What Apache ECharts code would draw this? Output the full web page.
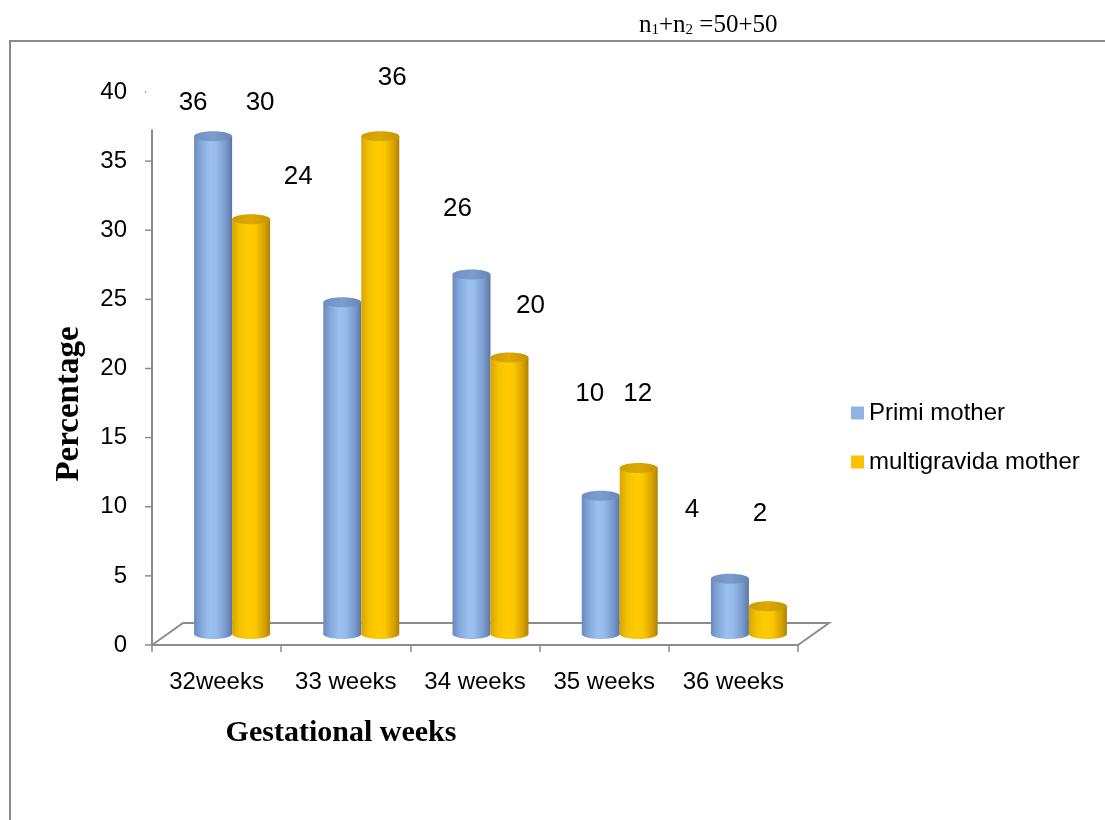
<!DOCTYPE html>
<html>
<head>
<meta charset="utf-8">
<script src="https://cdn.jsdelivr.net/npm/echarts@6/dist/echarts.min.js"></script>
<style>
  html, body { margin: 0; padding: 0; background: #ffffff; }
  #chart { width: 1105px; height: 820px; }
</style>
</head>
<body>
<div id="chart"></div>
<script>
// Gestational weeks at delivery, percentage of mothers in each group
const categories = ['32weeks', '33 weeks', '34 weeks', '35 weeks', '36 weeks'];
const primiMother = [36, 24, 26, 10, 4];
const multigravidaMother = [30, 36, 20, 12, 2];
const yTickValues = [0, 5, 10, 15, 20, 25, 30, 35, 40];

// Pixel offsets of each value label from the top of its cylinder
const primiLabelOffset = [[-20, -33], [-44, -125], [-14, -66], [-11, -102], [-38, -69]];
const multiLabelOffset = [[9, -116], [12, -58], [21, -52], [-1, -74], [-8, -93]];

const AXIS_GREY = '#8c8c8c';
const FLOOR_DEPTH_Y = 22;      // px, vertical rise of the floor's back edge
const FLOOR_DEPTH_X = 0.24;    // fraction of a category band
const BAR_FRACTION = 0.294;    // cylinder width as a fraction of a band
const AXIS_LINE_TOP = 37.3;    // value where the drawn value-axis line ends

const palettes = {
  primi: {
    legend: '#8DB4E2',
    body: [[0, '#6A89BD'], [0.18, '#83A7DA'], [0.42, '#9CC1F1'], [0.58, '#97BCEC'], [0.85, '#7796C9'], [1, '#5A75A5']],
    top: [[0, '#6F8EC2'], [0.5, '#7E9DCF'], [1, '#6886B8']]
  },
  multi: {
    legend: '#FFC000',
    body: [[0, '#D9A400'], [0.2, '#F4C200'], [0.45, '#FFCC00'], [0.62, '#FCC600'], [0.86, '#D6A000'], [1, '#AE8200']],
    top: [[0, '#CE9C00'], [0.5, '#DDAA00'], [1, '#C49300']]
  }
};

function grad(stops) {
  return new echarts.graphic.LinearGradient(0, 0, 1, 0,
    stops.map(s => ({ offset: s[0], color: s[1] })));
}

function cylinderRenderer(slot, palette, offsets) {
  return function (params, api) {
    const cat = api.value(0);
    const val = api.value(1);
    const base = api.coord([cat, 0]);
    const top = api.coord([cat, val]);
    const band = api.size([1, 0])[0];
    const w = band * BAR_FRACTION;
    const rx = w / 2, ry = 5;
    const cx = base[0] + band * FLOOR_DEPTH_X / 2 + slot * rx;
    const by = base[1] - FLOOR_DEPTH_Y / 2;
    const ty = top[1] - FLOOR_DEPTH_Y / 2;
    const off = offsets[params.dataIndex];
    return {
      type: 'group',
      children: [
        { type: 'ellipse', shape: { cx: cx, cy: by, rx: rx, ry: ry }, style: { fill: grad(palette.body) } },
        { type: 'rect', shape: { x: cx - rx, y: ty, width: w, height: by - ty }, style: { fill: grad(palette.body) } },
        { type: 'ellipse', shape: { cx: cx, cy: ty, rx: rx, ry: ry }, style: { fill: grad(palette.top) } },
        {
          type: 'text',
          x: cx + off[0], y: ty + off[1],
          style: {
            text: String(val), fill: '#000', align: 'center', verticalAlign: 'middle',
            font: '26px "Liberation Sans", Arial, sans-serif'
          }
        }
      ]
    };
  };
}

// Floor outline, value-axis line and its tick marks
function frameRenderer(params, api) {
  const band = api.size([1, 0])[0];
  const p0 = api.coord([0, 0]);
  const left = p0[0] - band / 2;
  const right = api.coord([categories.length - 1, 0])[0] + band / 2;
  const y0 = p0[1];
  const dx = band * FLOOR_DEPTH_X;
  const lineStyle = { stroke: AXIS_GREY, lineWidth: 2, fill: null };
  const children = [
    { type: 'polyline', shape: { points: [[left, y0], [left + dx, y0 - FLOOR_DEPTH_Y], [right + dx, y0 - FLOOR_DEPTH_Y], [right, y0]] }, style: lineStyle },
    { type: 'line', shape: { x1: left, y1: y0, x2: left, y2: api.coord([0, AXIS_LINE_TOP])[1] }, style: { stroke: AXIS_GREY, lineWidth: 2 } }
  ];
  yTickValues.forEach(v => {
    const y = api.coord([0, v])[1];
    if (v <= AXIS_LINE_TOP) {
      children.push({ type: 'line', shape: { x1: left - 7, y1: y, x2: left, y2: y }, style: { stroke: AXIS_GREY, lineWidth: 1.5 } });
    } else {
      children.push({ type: 'rect', shape: { x: left - 7, y: y - 0.5, width: 1.2, height: 1.2 }, style: { fill: '#666' } });
    }
  });
  return { type: 'group', children: children };
}

const chart = echarts.init(document.getElementById('chart'), null, { renderer: 'canvas' });

const serif = '"Liberation Serif", "Times New Roman", serif';
const sans = '"Liberation Sans", Arial, sans-serif';

chart.setOption({
  backgroundColor: '#ffffff',
  animation: false,
  title: {
    left: 634, top: 8,
    text: '{a|n}{s|1}{a|+n}{s|2}{a| =50+50}',
    textStyle: {
      fontWeight: 'normal',
      rich: {
        a: { fontFamily: serif, fontSize: 25, fontWeight: 'normal', color: '#000' },
        s: { fontFamily: serif, fontSize: 15, fontWeight: 'normal', color: '#000', padding: [10, 0, 0, 0] }
      }
    }
  },
  graphic: [
    { type: 'polyline', shape: { points: [[10, 820], [10, 41], [1105, 41]] }, style: { stroke: '#8a8a8a', lineWidth: 2, fill: null } },
    {
      type: 'text', x: 69, y: 404, rotation: Math.PI / 2,
      style: { text: 'Percentage', font: 'bold 33px ' + serif, fill: '#000', align: 'center', verticalAlign: 'middle' }
    },
    {
      type: 'text', x: 341, y: 733,
      style: { text: 'Gestational weeks', font: 'bold 30px ' + serif, fill: '#000', align: 'center', verticalAlign: 'middle' }
    }
  ],
  legend: {
    orient: 'vertical',
    left: 846, top: 395,
    itemWidth: 13, itemHeight: 13, itemGap: 23,
    icon: 'rect',
    textStyle: { fontFamily: sans, fontSize: 24, color: '#000', lineHeight: 26 },
    data: ['Primi mother', 'multigravida mother']
  },
  grid: { left: 152, right: 307, top: 92, bottom: 175, containLabel: false },
  xAxis: {
    type: 'category',
    data: categories,
    boundaryGap: true,
    axisLine: { show: true, lineStyle: { color: AXIS_GREY, width: 2 } },
    axisTick: { show: true, interval: 0, length: 7, alignWithLabel: false, lineStyle: { color: AXIS_GREY, width: 1.5 } },
    axisLabel: { interval: 0, margin: 25, color: '#000', fontSize: 24, fontFamily: sans },
    splitLine: { show: false }
  },
  yAxis: {
    type: 'value',
    min: 0, max: 40, interval: 5,
    axisLine: { show: false },
    axisTick: { show: false },
    axisLabel: { margin: 25, color: '#000', fontSize: 24, fontFamily: sans },
    splitLine: { show: false }
  },
  series: [
    {
      type: 'custom', name: 'floor', silent: true, z: 1,
      data: [[0, 0]],
      renderItem: frameRenderer
    },
    {
      type: 'custom', name: 'Primi mother', z: 2,
      itemStyle: { color: palettes.primi.legend },
      encode: { x: 0, y: 1 },
      data: primiMother.map((v, i) => [i, v]),
      renderItem: cylinderRenderer(-1, palettes.primi, primiLabelOffset)
    },
    {
      type: 'custom', name: 'multigravida mother', z: 3,
      itemStyle: { color: palettes.multi.legend },
      encode: { x: 0, y: 1 },
      data: multigravidaMother.map((v, i) => [i, v]),
      renderItem: cylinderRenderer(1, palettes.multi, multiLabelOffset)
    }
  ]
});
</script>
</body>
</html>
